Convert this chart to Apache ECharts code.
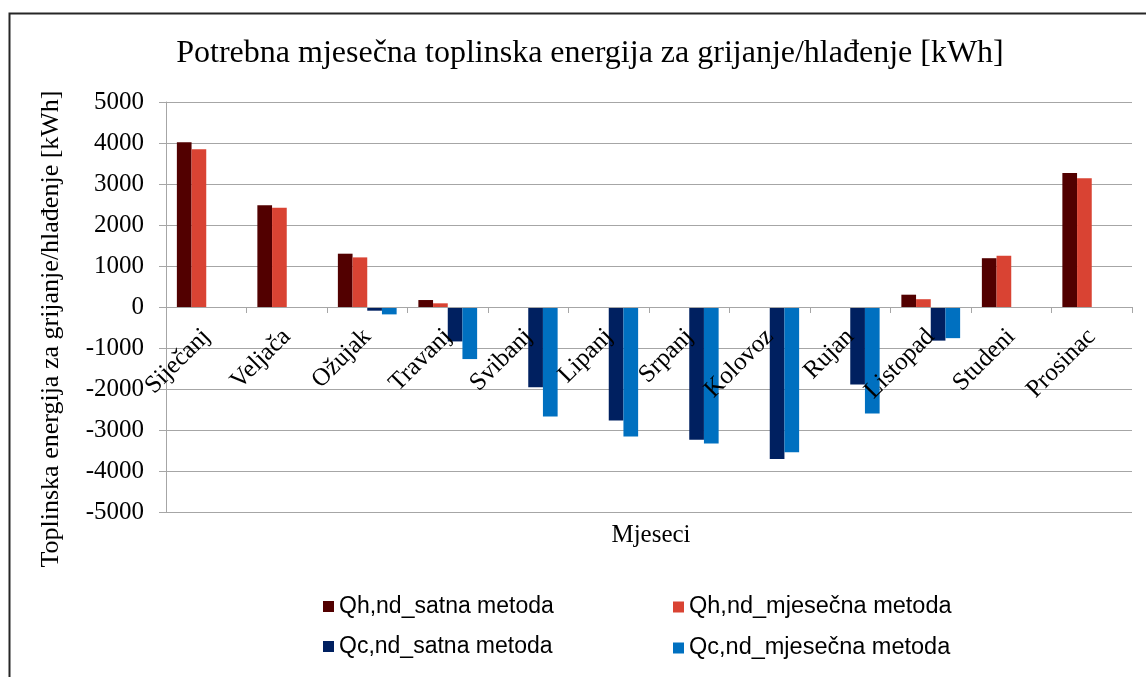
<!DOCTYPE html>
<html>
<head>
<meta charset="utf-8">
<script src="https://cdn.jsdelivr.net/npm/echarts@6/dist/echarts.min.js"></script>
<style>
html,body{margin:0;padding:0;background:#fff;}
#c{width:1146px;height:677px;}
</style>
</head>
<body>
<div id="c"></div>
<script>
const categories = ['Siječanj','Veljača','Ožujak','Travanj','Svibanj','Lipanj','Srpanj','Kolovoz','Rujan','Listopad','Studeni','Prosinac'];
const qhSatna     = [4020, 2480, 1300, 170, 0, 0, 0, 0, 0, 300, 1190, 3270];
const qhMjesecna  = [3850, 2420, 1210, 90, 0, 0, 0, 0, 0, 190, 1250, 3140];
const qcSatna     = [0, 0, -90, -840, -1960, -2770, -3240, -3710, -1890, -820, 0, 0];
const qcMjesecna  = [0, 0, -180, -1270, -2670, -3160, -3330, -3540, -2600, -760, 0, 0];
const seriesNames = ['Qh,nd_satna metoda','Qh,nd_mjesečna metoda','Qc,nd_satna metoda','Qc,nd_mjesečna metoda'];
const yTicks = [-5000,-4000,-3000,-2000,-1000,0,1000,2000,3000,4000,5000];

const serif = "'Liberation Serif','Times New Roman',serif";
const sans = "'Liberation Sans Narrow','Arial Narrow','Liberation Sans',Arial,sans-serif";
const colors = ['#520000','#D94333','#002060','#0070C0'];
const dataSets = [qhSatna, qhMjesecna, qcSatna, qcMjesecna];

const chart = echarts.init(document.getElementById('c'), null, {renderer:'canvas'});
chart.setOption({
  animation:false,
  backgroundColor:'#ffffff',
  color: colors,
  title:[
    {text:'Potrebna mjesečna toplinska energija za grijanje/hlađenje [kWh]', left:585, top:33, textAlign:'center',
     textStyle:{fontFamily:serif, fontSize:32, fontWeight:'normal', color:'#000'}},
    {text:'Mjeseci', left:646, top:518, textAlign:'center',
     textStyle:{fontFamily:serif, fontSize:25, fontWeight:'normal', color:'#000'}}
  ],
  graphic:[
    {type:'rect', left:7, top:11, shape:{width:1200, height:700}, style:{fill:'none', stroke:'#262626', lineWidth:2}, silent:true},
    {type:'text', x:51, y:329, rotation:Math.PI/2,
     style:{text:'Toplinska energija za grijanje/hlađenje [kWh]', font:"26px 'Liberation Serif'", fill:'#000', align:'center', verticalAlign:'middle'}}
  ],
  legend:[
    {data:[seriesNames[0], seriesNames[2]], orient:'vertical', left:318, top:590, itemGap:17, itemWidth:11, itemHeight:11, icon:'rect',
     textStyle:{fontFamily:sans, fontSize:23, color:'#000'}},
    {data:[seriesNames[1], seriesNames[3]], orient:'vertical', left:668, top:590, itemGap:17, itemWidth:11, itemHeight:11, icon:'rect',
     textStyle:{fontFamily:sans, fontSize:23.5, color:'#000'}}
  ],
  grid:{left:166, right:14, top:102, bottom:165, containLabel:false},
  xAxis:{
    type:'category', data:categories,
    offset:-205, z:10,
    axisLine:{onZero:false, lineStyle:{color:'#A6A6A6', width:1}},
    axisTick:{show:true, alignWithLabel:false, length:6, lineStyle:{color:'#A6A6A6'}},
    axisLabel:{rotate:45, margin:26, fontFamily:serif, fontSize:25, color:'#000', interval:0},
    splitLine:{show:false}
  },
  yAxis:{
    type:'value', min:-5000, max:5000, interval:1000,
    axisLine:{show:true, lineStyle:{color:'#A6A6A6'}},
    axisTick:{show:true, length:7, lineStyle:{color:'#A6A6A6'}},
    axisLabel:{fontFamily:serif, fontSize:25, color:'#000', margin:22,
      formatter:function(v){return yTicks.indexOf(v)>=0 ? String(v) : '';}},
    splitLine:{show:true, lineStyle:{color:'#A6A6A6', width:1}}
  },
  series: seriesNames.map(function(n,i){
    return {name:n, type:'bar', data:dataSets[i], barGap:'0%', barCategoryGap:'27%', z:2,
      itemStyle:{color:colors[i]}};
  })
});
</script>
</body>
</html>
